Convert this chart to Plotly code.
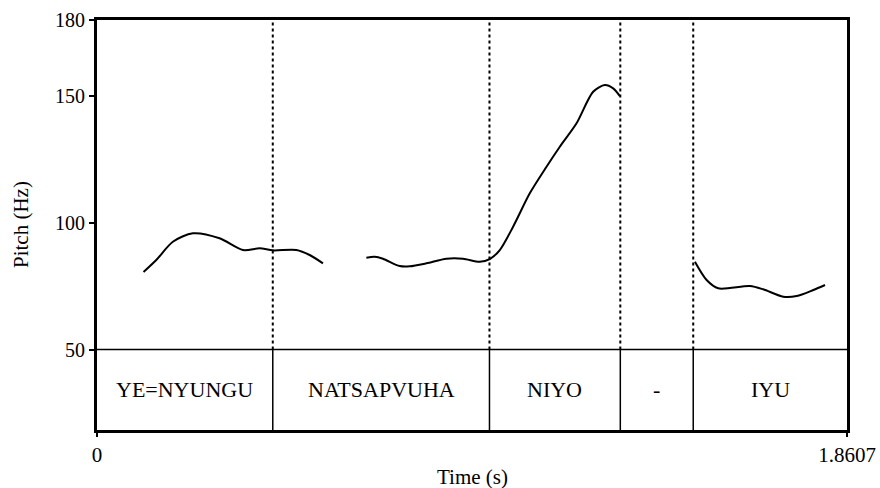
import plotly.graph_objects as go

# ---- data ----
t_max = 1.8607
boundaries = [0.4361, 0.9737, 1.2983, 1.4792]
tier_labels = ["YE=NYUNGU", "NATSAPVUHA", "NIYO", "-", "IYU"]

seg1_t = [0.1154, 0.1470, 0.1882, 0.2378, 0.3041, 0.3620, 0.4034, 0.4364, 0.4945, 0.5276, 0.5606]
seg1_f = [80.57, 85.31, 92.52, 95.84, 93.87, 89.25, 89.92, 89.13, 89.25, 87.28, 84.00]

seg2_t = [0.6683, 0.6889, 0.7095, 0.7510, 0.7758, 0.8173, 0.8669, 0.9081, 0.9496, 0.9744,
          0.9993, 1.0323, 1.0737, 1.1152, 1.1482, 1.1897, 1.2309, 1.2599, 1.2805, 1.2972]
seg2_f = [86.21, 86.61, 85.82, 82.94, 82.82, 84.00, 85.82, 85.82, 84.63, 85.70,
          89.25, 98.44, 111.62, 122.11, 130.00, 139.23, 151.70, 154.34, 153.04, 150.00]

seg3_t = [1.4834, 1.5124, 1.5412, 1.6199, 1.6529, 1.7026, 1.7359, 1.7771, 1.8062]
seg3_f = [84.63, 77.42, 74.14, 75.05, 73.75, 70.83, 71.10, 73.47, 75.44]

y_ticks = [50, 100, 150, 180]
y_top = 180
tier_top = 50
y_bottom = 18.25

FONT = "Liberation Serif"

fig = go.Figure()

for ts, fs in [(seg1_t, seg1_f), (seg2_t, seg2_f), (seg3_t, seg3_f)]:
    fig.add_trace(go.Scatter(x=ts, y=fs, mode="lines",
                             line=dict(color="black", width=2, shape="spline", smoothing=0.8),
                             showlegend=False, hoverinfo="skip"))

shapes = []
shapes.append(dict(type="line", xref="x", yref="y", x0=0, x1=t_max, y0=tier_top, y1=tier_top,
                   line=dict(color="black", width=1.5)))
for b in boundaries:
    shapes.append(dict(type="line", xref="x", yref="y", x0=b, x1=b, y0=tier_top, y1=y_top,
                       line=dict(color="black", width=2, dash="dot")))
    shapes.append(dict(type="line", xref="x", yref="y", x0=b, x1=b, y0=y_bottom, y1=tier_top,
                       line=dict(color="black", width=1.5)))

edges = [0] + boundaries + [t_max]
annotations = []
for i, lab in enumerate(tier_labels):
    annotations.append(dict(x=(edges[i] + edges[i + 1]) / 2, y=(tier_top + y_bottom) / 2,
                            xref="x", yref="y", text=lab, showarrow=False,
                            font=dict(family=FONT, size=22, color="black")))

annotations.append(dict(x=0.5, y=0, xref="paper", yref="paper", text="Time (s)",
                        showarrow=False, yanchor="middle", xanchor="center", yshift=-47,
                        font=dict(family=FONT, size=21, color="black")))
annotations.append(dict(x=0, y=0.5, xref="paper", yref="paper", text="Pitch (Hz)",
                        showarrow=False, yanchor="middle", xanchor="center", xshift=-76,
                        textangle=-90, font=dict(family=FONT, size=21, color="black")))

fig.update_layout(
    width=880, height=488,
    margin=dict(l=97, r=33, t=20, b=58, autoexpand=False),
    paper_bgcolor="white", plot_bgcolor="white",
    shapes=shapes, annotations=annotations,
    font=dict(family=FONT, size=20, color="black"),
    xaxis=dict(range=[0, t_max], tickvals=[0, t_max], ticktext=["0", "1.8607"],
               automargin=False,
               showgrid=False, zeroline=False, showline=True, mirror=True,
               linecolor="black", linewidth=3, ticks="outside", ticklen=4, tickwidth=2,
               tickcolor="black", tickfont=dict(family=FONT, size=21, color="black")),
    yaxis=dict(range=[y_bottom, y_top], tickvals=y_ticks, automargin=False,
               showgrid=False, zeroline=False, showline=True, mirror=True,
               linecolor="black", linewidth=3, ticks="outside", ticklen=5, tickwidth=2,
               tickcolor="black", tickfont=dict(family=FONT, size=20, color="black")),
)

fig.write_html("out.html")
